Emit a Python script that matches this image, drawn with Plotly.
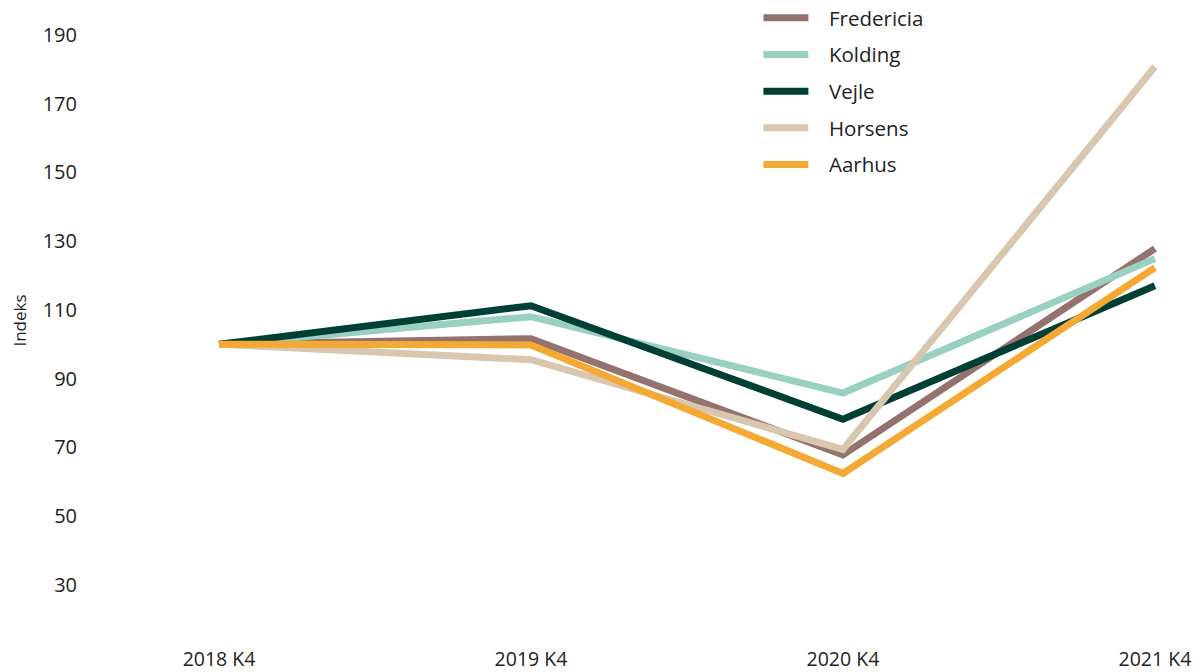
import plotly.graph_objects as go

categories = ["2018 K4", "2019 K4", "2020 K4", "2021 K4"]
fredericia = [100, 101.6, 67.8, 127.8]
kolding = [100, 108.0, 85.8, 124.9]
vejle = [100, 111.2, 78.2, 117.0]
horsens = [100, 95.5, 69.4, 180.7]
aarhus = [100, 99.8, 62.4, 122.3]

series = [
    ("Fredericia", fredericia, "#94736f"),
    ("Kolding", kolding, "#99d0c1"),
    ("Vejle", vejle, "#003f36"),
    ("Horsens", horsens, "#d9c6ae"),
    ("Aarhus", aarhus, "#f5a935"),
]

pad = "\u2002\u00a0"  # visual gap between legend line and label

fig = go.Figure()
for name, vals, color in series:
    fig.add_trace(go.Scatter(
        x=categories, y=vals, name=pad + name, mode="lines",
        line=dict(color=color, width=7), legendgroup=name,
    ))

font_family = "Open Sans, Inter, sans-serif"
fig.update_layout(
    width=1204, height=672,
    margin=dict(l=70, r=0, t=0, b=47, autoexpand=False),
    paper_bgcolor="white", plot_bgcolor="white",
    font=dict(family=font_family, size=18, color="#222222"),
    showlegend=True,
    legend=dict(x=0.6, y=1.016, xanchor="left", yanchor="top",
                font=dict(size=20.5, color="#222222"), tracegroupgap=7,
                itemwidth=45,
                bgcolor="rgba(0,0,0,0)"),
    xaxis=dict(type="category", range=[-0.452, 3.183], showgrid=False,
               showline=False, zeroline=False, ticks="",
               ticklabelstandoff=12, automargin=False,
               tickfont=dict(size=19.5)),
    yaxis=dict(range=[16.0, 197.8], tickvals=[30, 50, 70, 90, 110, 130, 150, 170, 190],
               showgrid=False, showline=False, zeroline=False, ticks="",
               automargin=False,
               title=dict(text="Indeks", font=dict(size=17), standoff=14),
               tickfont=dict(size=20)),
)
fig.write_html("out.html")
